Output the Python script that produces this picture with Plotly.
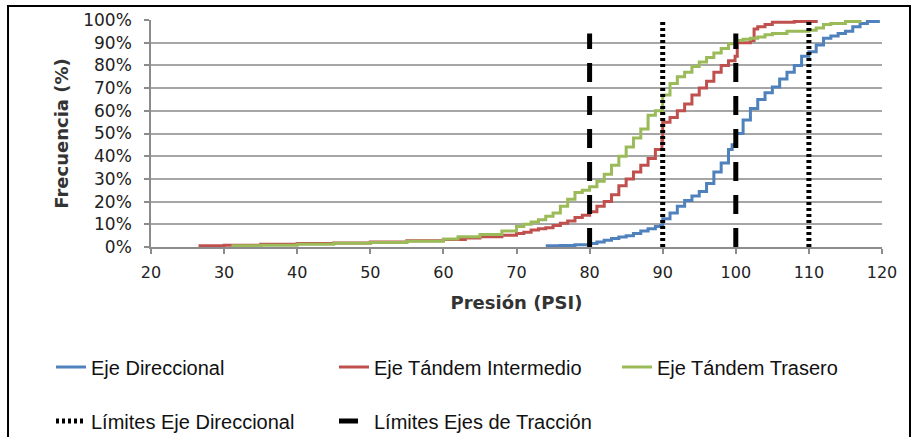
import plotly.graph_objects as go

# ---- data ----
dir_x = [74, 76, 78, 80, 81, 82, 83, 84, 85, 86, 87, 88, 89, 89.7, 90, 91, 92, 93, 94, 95, 96, 97, 98, 99, 99.5,
         100, 101, 102, 103, 104, 105, 106, 107, 108, 109, 110, 111, 112, 113, 114, 115, 116, 117, 118, 119.5]
dir_y = [0.5, 0.7, 1, 1.5, 2.2, 3, 3.7, 4.4, 5, 6, 7, 8, 9, 9.5, 12.5, 15, 18, 20.5, 22.5, 24.5, 28, 33, 37, 43, 45,
         50, 56, 61, 65, 68, 70.5, 74, 77, 80, 84, 86, 89, 92, 93, 94, 95, 97, 98.5, 99.3, 100]

int_x = [26.5, 30, 35, 40, 45, 50, 55, 60, 63, 65, 68, 70, 71, 72, 73, 74, 75, 76, 77, 78, 79, 80, 81, 82, 83, 84,
         85, 86, 87, 88, 89, 89.9, 90, 91, 92, 93, 94, 95, 96, 97, 98, 99, 99.9, 100.2, 101, 102, 102.5, 103, 104,
         105, 108, 111]
int_y = [0.5, 0.8, 1.2, 1.5, 1.8, 2.2, 2.7, 3.3, 4, 4.5, 5.2, 6, 6.5, 7.5, 8, 8.5, 9.5, 10.5, 11.5, 13, 14, 15.5,
         18, 20, 23, 27, 30, 33, 36, 39, 43, 47, 55, 57, 60, 63, 67, 70, 73, 77, 80, 82, 84, 90, 90, 91, 96, 97, 98,
         99, 99.3, 100]

tra_x = [31, 35, 40, 45, 50, 55, 60, 62, 65, 68, 70, 71, 72, 73, 74, 75, 76, 77, 78, 79, 80, 81, 82, 83, 84, 85,
         86, 87, 88, 89, 89.8, 90, 91, 92, 93, 94, 95, 96, 97, 98, 99, 100, 101, 102, 103, 104, 105, 107, 110, 111,
         112, 113, 115, 117]
tra_y = [0.5, 0.8, 1.2, 1.6, 2, 2.5, 3.5, 4.5, 5.5, 7, 9, 10, 11, 12, 13.5, 15, 18, 21, 24, 25, 26.5, 29, 32, 36,
         40, 44, 48, 52, 58, 60, 60, 67, 72, 75, 77, 79.5, 81.5, 83.5, 85.5, 87.5, 89.5, 91, 91.5, 92, 92.5, 93.5,
         94, 95, 95.5, 96.5, 98, 98.5, 99.3, 100]

lim_dir_x = [90, 110]
lim_dir_top = 100
lim_tra_x = [80, 100]
lim_tra_top = 94

x_ticks = [20, 30, 40, 50, 60, 70, 80, 90, 100, 110, 120]
y_ticks = [0, 10, 20, 30, 40, 50, 60, 70, 80, 90, 100]


def vlines(xs, top):
    vx, vy = [], []
    for x in xs:
        vx += [x, x, None]
        vy += [0, top / 100, None]
    return vx, vy


fig = go.Figure()
fig.add_trace(go.Scatter(x=dir_x, y=[v / 100 for v in dir_y], mode="lines", name="Eje Direccional",
                         line=dict(color="#4F81BD", width=3, shape="hv"), legend="legend"))
fig.add_trace(go.Scatter(x=int_x, y=[v / 100 for v in int_y], mode="lines", name="Eje Tándem Intermedio",
                         line=dict(color="#C0504D", width=3, shape="hv"), legend="legend"))
fig.add_trace(go.Scatter(x=tra_x, y=[v / 100 for v in tra_y], mode="lines", name="Eje Tándem Trasero",
                         line=dict(color="#9BBB59", width=3, shape="hv"), legend="legend"))
dx, dy = vlines(lim_dir_x, lim_dir_top)
fig.add_trace(go.Scatter(x=dx, y=dy, mode="lines", name="Límites Eje Direccional",
                         line=dict(color="black", width=5, dash="3px,3px"), legend="legend2"))
tx, ty = vlines(lim_tra_x, lim_tra_top)
fig.add_trace(go.Scatter(x=tx, y=ty, mode="lines", name="Límites Ejes de Tracción",
                         line=dict(color="black", width=5, dash="19px,14px"), legend="legend2"))

xtickfont = dict(family="DejaVu Sans", size=16, color="#222222")
ytickfont = dict(family="DejaVu Sans", size=17, color="#222222")
legfont = dict(family="Liberation Sans Narrow, Liberation Sans, Arial", size=20, color="#111111")
titlefont = dict(family="DejaVu Sans", size=18, color="#333333")

# outer frame (extends past the bottom of the picture)
fig.add_shape(type="rect", xref="paper", yref="paper", x0=-0.1956, x1=1.0383, y0=-0.9, y1=1.0617,
              line=dict(color="black", width=2), fillcolor="rgba(0,0,0,0)", layer="below")

fig.update_layout(
    width=919, height=437,
    margin=dict(l=151, r=37, t=20, b=190, autoexpand=False),
    paper_bgcolor="white", plot_bgcolor="white",
    xaxis=dict(range=[20, 120], tickvals=x_ticks, showgrid=False, zeroline=False,
               showline=True, linecolor="#8c8c8c", linewidth=1.5,
               ticks="outside", ticklen=5, tickcolor="#8c8c8c", tickwidth=1.5,
               tickfont=xtickfont, ticklabelstandoff=5,
               title=dict(text="<b>Presión (PSI)</b>", font=titlefont, standoff=15)),
    yaxis=dict(range=[0, 1], tickvals=[v / 100 for v in y_ticks], tickformat=".0%",
               showgrid=True, gridcolor="#a6a6a6", gridwidth=1.5, zeroline=False,
               showline=True, linecolor="#8c8c8c", linewidth=1.5,
               ticks="outside", ticklen=5, tickcolor="#8c8c8c", tickwidth=1.5,
               tickfont=ytickfont, ticklabelstandoff=9,
               title=dict(text="<b>Frecuencia (%)</b>", font=titlefont, standoff=10)),
    legend=dict(orientation="h", x=-0.1368, y=-0.5286, xanchor="left", yanchor="middle",
                entrywidth=238, entrywidthmode="pixels", font=legfont, bgcolor="rgba(0,0,0,0)"),
    legend2=dict(orientation="h", x=-0.1368, y=-0.7665, xanchor="left", yanchor="middle",
                 entrywidth=238, entrywidthmode="pixels", font=legfont, bgcolor="rgba(0,0,0,0)"),
    showlegend=True,
)

fig.write_html("out.html")
